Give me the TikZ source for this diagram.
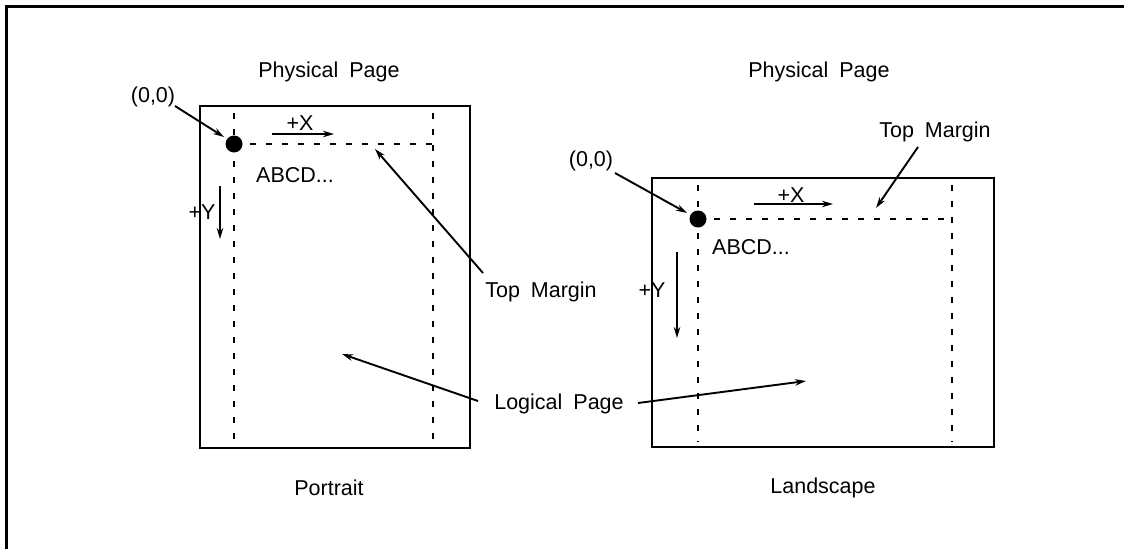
\documentclass[tikz,border=0pt]{standalone}
\usepackage{fontspec}
\setmainfont{Liberation Sans}
\usetikzlibrary{arrows.meta}
\newcommand{\mylblfont}{\fontsize{21.5}{25}\selectfont\spaceskip=11pt plus 2pt minus 1pt\relax}
\tikzset{
  lbl/.style={inner sep=0pt, font=\mylblfont},
  frame/.style={line width=3pt},
  pagebox/.style={line width=2.5pt},
  dashline/.style={line width=2.2pt, dash pattern=on 6pt off 10pt},
  arr/.style={line width=1.9pt, -{Stealth[length=11pt,width=6.5pt]}},
  origin/.style={circle, fill=black, minimum size=17pt, inner sep=0pt}
}
\begin{document}
\begin{tikzpicture}[x=1pt,y=-1pt]
\useasboundingbox (0,0) rectangle (1124,549);
% outer frame (cropped)
\draw[frame] (1124,6) -- (6,6) -- (6,549);

% ---------- Portrait ----------
\node[lbl] (pp1) at (329,72) {Physical Page};
\draw[pagebox] (200,106) rectangle (470,448);
\draw[dashline] (234,113) -- (234,446);
\draw[dashline] (433,113) -- (433,446);
\draw[dashline] (234,144) -- (433,144);
\node[origin] (o1) at (234,144) {};
\node[lbl] (z1) at (153,97) {(0,0)};
\coordinate (z1t) at (175,106);
\coordinate (z1h) at (224,137);
\draw[arr] (z1t) -- (z1h);
\node[lbl] (x1) at (300,123) {+X};
\coordinate (x1a) at (272,134);
\coordinate (x1b) at (334,134);
\draw[arr] (x1a) -- (x1b);
\node[lbl] (abc1) at (295,175) {ABCD...};
\node[lbl] (y1) at (202,212) {+Y};
\coordinate (y1a) at (220,186);
\coordinate (y1b) at (220,239);
\draw[arr] (y1a) -- (y1b);
\node[lbl] (tm1) at (541,292) {Top Margin};
\coordinate (tm1t) at (483,273);
\coordinate (tm1h) at (375,149);
\draw[arr] (tm1t) -- (tm1h);
\node[lbl] (por) at (329,488) {Portrait};

% ---------- Logical Page ----------
\node[lbl] (lp) at (559,404) {Logical Page};
\coordinate (lp1t) at (478,401);
\coordinate (lp1h) at (342,354);
\draw[arr] (lp1t) -- (lp1h);
\coordinate (lp2t) at (638,403);
\coordinate (lp2h) at (806,381);
\draw[arr] (lp2t) -- (lp2h);

% ---------- Landscape ----------
\node[lbl] (pp2) at (819,72) {Physical Page};
\draw[pagebox] (652,178) rectangle (994,447);
\draw[dashline] (698,185) -- (698,442);
\draw[dashline] (952,185) -- (952,442);
\draw[dashline] (698,219) -- (952,219);
\node[origin] (o2) at (698,219) {};
\node[lbl] (z2) at (591,161) {(0,0)};
\coordinate (z2t) at (615,173);
\coordinate (z2h) at (687,213);
\draw[arr] (z2t) -- (z2h);
\node[lbl] (x2) at (791,195) {+X};
\coordinate (x2a) at (754,204);
\coordinate (x2b) at (833,204);
\draw[arr] (x2a) -- (x2b);
\node[lbl] (abc2) at (751,247) {ABCD...};
\node[lbl] (y2) at (652,290) {+Y};
\coordinate (y2a) at (677,252);
\coordinate (y2b) at (677,338);
\draw[arr] (y2a) -- (y2b);
\node[lbl] (tm2) at (935,132) {Top Margin};
\coordinate (tm2t) at (918,147);
\coordinate (tm2h) at (876,208);
\draw[arr] (tm2t) -- (tm2h);
\node[lbl] (lan) at (823,488) {Landscape};
\end{tikzpicture}
\end{document}
